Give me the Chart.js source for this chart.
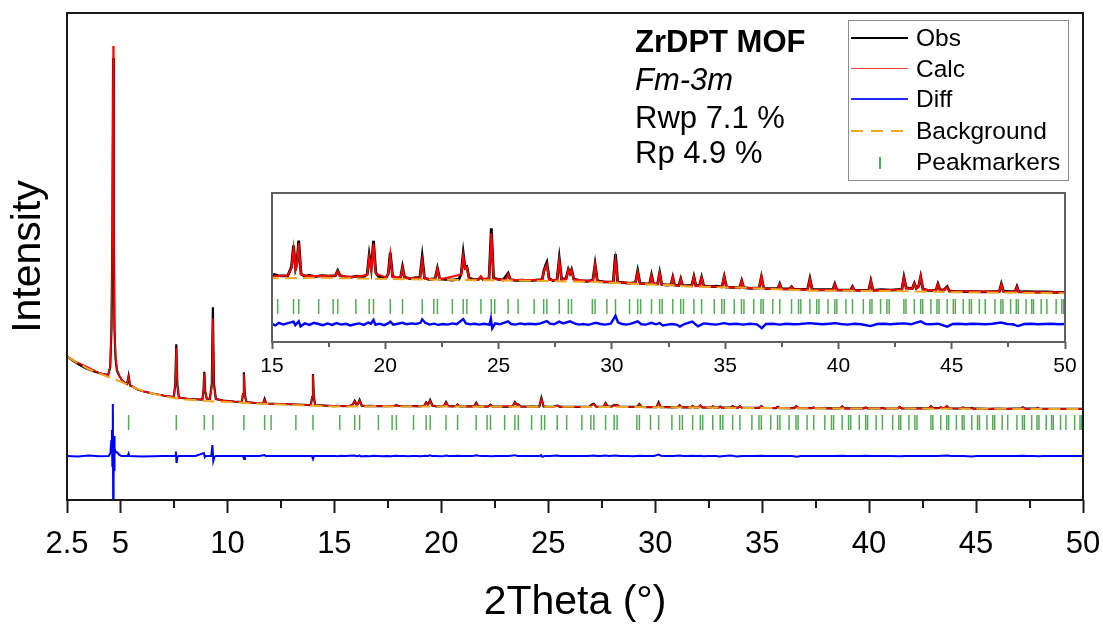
<!DOCTYPE html>
<html>
<head>
<meta charset="utf-8">
<script src="https://cdn.jsdelivr.net/npm/chart.js@4/dist/chart.umd.min.js"></script>
<style>
body{margin:0;background:#fff;}
#wrap{position:relative;width:1103px;height:625px;font-family:"Liberation Sans",Arial,sans-serif;color:#000;}
#chart{position:absolute;left:0;top:0;}
#inset{position:absolute;left:222px;top:183px;}
.note{position:absolute;left:635px;font-size:31px;line-height:30px;white-space:nowrap;}
#legenda{position:absolute;left:848px;top:20px;width:219px;height:159px;border:1px solid #8c8c8c;}
.item{position:absolute;left:67px;font-size:24.5px;line-height:31px;white-space:nowrap;}
.amostra{position:absolute;left:2px;width:57px;}
</style>
</head>
<body>
<div id="wrap">
<canvas id="chart" width="1103" height="625"></canvas>
<canvas id="inset" width="868" height="200"></canvas>

<div class="note" style="top:27px;font-weight:bold">ZrDPT MOF</div>
<div class="note" style="top:65px;font-style:italic">Fm-3m</div>
<div class="note" style="top:103px">Rwp 7.1 %</div>
<div class="note" style="top:138px">Rp 4.9 %</div>

<div id="legenda">
  <div class="amostra" style="top:16px;border-top:2px solid #000"></div>
  <div class="item" style="top:1px">Obs</div>
  <div class="amostra" style="top:47px;border-top:1.5px solid #ff4040"></div>
  <div class="item" style="top:32px">Calc</div>
  <div class="amostra" style="top:77px;border-top:2px solid #1f2bff"></div>
  <div class="item" style="top:62px">Diff</div>
  <div class="amostra" style="top:109px;height:2px;background:repeating-linear-gradient(90deg,#eda829 0 12px,transparent 12px 20px)"></div>
  <div class="item" style="top:94px">Background</div>
  <div style="position:absolute;left:30px;top:136px;width:2px;height:12px;background:#4caf50"></div>
  <div class="item" style="top:125px">Peakmarkers</div>
</div>
</div>

<script>
// values: [2Theta (deg), intensity (counts)]
const obsPts = [
  [2.5,6250],[2.8,5800],[3.1,5400],[3.4,5050],[3.7,4800],[4.0,4600],[4.2,4480],[4.42,4380],
  [4.52,5200],[4.58,9000],[4.62,18000],[4.655,36100],[4.69,18000],[4.72,9000],[4.77,6000],[4.84,4800],
  [4.95,4300],[5.1,3800],[5.25,3550],[5.31,3500],[5.38,4300],[5.45,3350],[5.55,3250],[5.8,2950],
  [6.1,2750],[6.5,2550],[7.0,2350],[7.49,2180],[7.56,3400],[7.61,7470],[7.66,3400],[7.73,2150],
  [8.2,2000],[8.83,1950],[8.88,2800],[8.92,4730],[8.96,2800],[9.03,2050],[9.18,2000],[9.27,3500],
  [9.32,11170],[9.37,3500],[9.46,2000],[9.8,1850],[10.3,1750],[10.67,1700],[10.73,2500],[10.77,4670],
  [10.81,2500],[10.88,1700],[11.3,1600],[11.67,1560],[11.74,2000],[11.81,1550],[12.5,1500],[13.2,1450],
  [13.9,1400],[13.96,2200],[14.0,4500],[14.04,2200],[14.1,1400],[14.5,1350],
  [15.0,1290],[15.1,1320],[15.25,1300],[15.45,1295],[15.7,1300],[15.86,1450],[15.95,1810],[16.04,1420],
  [16.1,1500],[16.18,1895],[16.28,1330],[16.45,1290],[16.65,1305],[16.9,1285],[17.2,1300],[17.5,1290],
  [17.8,1300],[17.9,1385],[18.0,1300],[18.25,1280],[18.5,1275],[18.75,1290],[19.0,1270],[19.2,1320],
  [19.29,1650],[19.38,1420],[19.48,1890],[19.58,1350],[19.75,1265],[20.05,1275],[20.13,1330],[20.22,1690],
  [20.32,1290],[20.55,1255],[20.68,1280],[20.76,1450],[20.85,1270],[21.1,1250],[21.3,1260],[21.53,1270],
  [21.63,1620],[21.73,1260],[21.95,1235],[22.2,1250],[22.3,1425],[22.4,1245],[22.65,1235],[22.95,1225],
  [23.25,1240],[23.35,1330],[23.44,1680],[23.52,1430],[23.6,1450],[23.7,1260],[23.95,1230],[24.12,1240],
  [24.22,1275],[24.32,1235],[24.58,1250],[24.68,2105],[24.78,1260],[24.95,1240],[25.2,1225],[25.42,1340],
  [25.52,1230],[25.75,1220],[26.05,1225],[26.35,1215],[26.65,1225],[26.92,1230],[27.0,1380],[27.07,1470],
  [27.13,1525],[27.23,1250],[27.4,1215],[27.58,1230],[27.68,1590],[27.78,1240],[27.98,1250],[28.08,1405],
  [28.15,1340],[28.22,1405],[28.32,1240],[28.6,1215],[28.9,1205],[29.16,1220],[29.26,1495],[29.36,1210],
  [29.65,1195],[30.06,1190],[30.16,1665],[30.26,1190],[30.5,1180],[30.8,1170],[31.04,1180],[31.14,1380],
  [31.24,1170],[31.5,1160],[31.67,1165],[31.75,1310],[31.83,1165],[32.02,1160],[32.11,1350],[32.2,1150],
  [32.45,1140],[32.61,1145],[32.69,1272],[32.77,1140],[32.96,1135],[33.04,1243],[33.12,1130],[33.53,1135],
  [33.62,1282],[33.71,1130],[33.87,1135],[33.96,1272],[34.05,1125],[34.3,1112],[34.6,1120],[34.86,1110],
  [34.96,1282],[35.06,1105],[35.35,1100],[35.64,1095],[35.73,1214],[35.82,1095],[36.15,1085],[36.5,1090],
  [36.6,1277],[36.7,1085],[37.0,1080],[37.33,1080],[37.41,1158],[37.49,1075],[37.85,1075],[37.93,1112],
  [38.01,1070],[38.35,1065],[38.64,1070],[38.74,1248],[38.84,1065],[39.2,1060],[39.5,1062],[39.75,1060],
  [39.84,1158],[39.93,1058],[40.25,1055],[40.54,1056],[40.62,1112],[40.7,1052],[41.0,1050],[41.34,1055],
  [41.43,1209],[41.52,1050],[41.9,1060],[42.3,1055],[42.6,1060],[42.8,1065],[42.89,1272],[42.99,1090],
  [43.26,1080],[43.35,1170],[43.44,1085],[43.54,1120],[43.63,1282],[43.73,1070],[43.95,1050],[44.3,1045],
  [44.39,1158],[44.48,1060],[44.65,1055],[44.8,1112],[44.89,1040],[45.2,1030],[45.6,1027],[46.0,1030],
  [46.4,1025],[46.8,1028],[47.1,1030],[47.19,1158],[47.28,1035],[47.55,1030],[47.8,1030],[47.88,1112],
  [47.96,1025],[48.3,1027],[48.7,1022],[49.1,1025],[49.5,1018],[50.0,1017]
];

const calcPts = [
  [2.5,6230],[3.0,5650],[3.5,5150],[4.0,4620],[4.42,4350],[4.52,5300],[4.58,9500],[4.62,19000],
  [4.655,37300],[4.69,19000],[4.72,9500],[4.77,6200],[4.84,4900],[4.95,4300],[5.1,3800],[5.25,3550],
  [5.31,3500],[5.38,4250],[5.45,3350],[5.55,3250],[5.8,2950],[6.1,2750],[6.5,2550],[7.0,2350],
  [7.49,2180],[7.56,3300],[7.61,7070],[7.66,3300],[7.73,2150],[8.2,2000],[8.83,1950],[8.88,2750],
  [8.92,4570],[8.96,2750],[9.03,2050],[9.18,2000],[9.27,3300],[9.32,10070],[9.37,3300],[9.46,2000],
  [9.8,1850],[10.3,1750],[10.67,1700],[10.73,2450],[10.77,4500],[10.81,2450],[10.88,1700],[11.3,1600],
  [11.67,1560],[11.74,1950],[11.81,1550],[12.5,1500],[13.2,1450],[13.9,1400],[13.96,2200],[14.0,4450],
  [14.04,2200],[14.1,1400],[14.5,1350],
  [15.0,1290],[15.7,1300],[15.86,1430],[15.95,1760],[16.04,1400],[16.1,1480],[16.18,1850],[16.28,1320],
  [16.5,1295],[17.5,1295],[17.8,1300],[17.9,1375],[18.0,1295],[18.5,1275],[19.2,1310],[19.29,1620],
  [19.38,1400],[19.48,1840],[19.58,1330],[20.05,1270],[20.13,1320],[20.22,1660],[20.32,1280],[20.68,1265],
  [20.76,1430],[20.85,1260],[21.53,1255],[21.63,1560],[21.73,1250],[22.2,1240],[22.3,1415],[22.4,1235],
  [23.35,1320],[23.44,1640],[23.52,1420],[23.6,1440],[23.7,1240],[24.12,1235],[24.22,1290],[24.32,1235],
  [24.58,1250],[24.68,2020],[24.78,1245],[25.32,1225],[25.42,1320],[25.52,1225],[26.92,1225],[27.0,1370],
  [27.07,1440],[27.13,1490],[27.23,1225],[27.58,1225],[27.68,1560],[27.78,1230],[27.98,1240],[28.08,1395],
  [28.15,1330],[28.22,1395],[28.32,1230],[29.16,1205],[29.26,1480],[29.36,1200],[30.06,1190],[30.16,1570],
  [30.26,1185],[31.04,1175],[31.14,1360],[31.24,1165],[31.67,1160],[31.75,1300],[31.83,1160],[32.02,1155],
  [32.11,1340],[32.2,1150],[32.61,1140],[32.69,1265],[32.77,1138],[32.96,1132],[33.04,1240],[33.12,1128],
  [33.53,1125],[33.62,1275],[33.71,1125],[33.87,1122],[33.96,1268],[34.05,1120],[34.86,1108],[34.96,1285],
  [35.06,1105],[35.64,1095],[35.73,1215],[35.82,1093],[36.5,1085],[36.6,1290],[36.7,1082],[37.33,1075],
  [37.41,1150],[37.49,1073],[37.85,1070],[37.93,1108],[38.01,1068],[38.64,1062],[38.74,1240],[38.84,1060],
  [39.75,1055],[39.84,1150],[39.93,1053],[40.54,1050],[40.62,1105],[40.7,1050],[41.34,1048],[41.43,1215],
  [41.52,1046],[42.8,1060],[42.89,1265],[42.99,1085],[43.26,1078],[43.35,1165],[43.44,1080],[43.54,1115],
  [43.63,1290],[43.73,1065],[44.3,1040],[44.39,1155],[44.48,1055],[44.65,1050],[44.8,1105],[44.89,1035],
  [47.1,1025],[47.19,1150],[47.28,1028],[47.8,1022],[47.88,1105],[47.96,1020],[50.0,1012]
];

const bgPts = [
  [2.5,6230],[3.0,5600],[3.5,5000],[4.0,4550],[4.5,4150],[5.0,3750],[5.5,3250],[6.0,2850],
  [6.5,2550],[7.0,2300],[7.5,2100],[8.0,1950],[9.0,1800],[10.0,1700],[11.0,1580],[12.0,1480],
  [13.0,1400],[14.0,1330],[15.0,1255],[17.0,1265],[19.0,1250],[21.0,1238],[23.3,1226],[26.3,1214],
  [29.2,1192],[32.6,1136],[33.5,1112],[35.8,1095],[38.7,1044],[42.4,1039],[45.2,1017],[50.0,1000]
];

// difference curve (obs - calc), counts
const diffPts = [
  [2.5,0],[3.0,-60],[3.5,50],[4.0,-20],[4.45,0],[4.53,300],[4.57,1500],[4.6,2600],
  [4.62,-1000],[4.635,2600],[4.65,5200],[4.66,-6000],[4.67,1500],[4.685,-2200],[4.7,2000],[4.715,-1500],
  [4.73,800],[4.77,400],[4.85,350],[4.95,100],[5.05,0],[5.34,0],[5.38,250],[5.42,0],
  [6.0,-50],[7.0,0],[7.56,0],[7.59,450],[7.62,-700],[7.66,-100],[7.72,0],[8.5,0],
  [8.9,300],[8.94,-100],[8.98,0],[9.24,0],[9.3,1100],[9.34,-500],[9.39,-100],[9.45,0],
  [10.0,0],[10.73,0],[10.78,-300],[10.82,0],[11.5,0],[11.74,100],[11.79,0],[13.95,0],
  [14.0,-300],[14.05,0],[14.5,0],
  [15.0,0],[15.15,-25],[15.3,20],[15.5,-10],[15.7,15],[15.95,40],[16.03,-20],[16.1,10],
  [16.18,45],[16.26,-40],[16.45,10],[16.65,-15],[16.85,20],[17.05,0],[17.25,-20],[17.45,10],
  [17.65,-15],[17.85,15],[18.05,-10],[18.25,5],[18.45,-25],[18.65,-5],[18.85,10],[19.05,-15],
  [19.25,25],[19.37,5],[19.48,70],[19.56,-10],[19.75,5],[19.95,-20],[20.12,10],[20.22,40],
  [20.35,-10],[20.55,5],[20.75,20],[20.95,-5],[21.15,10],[21.35,0],[21.55,20],[21.63,80],
  [21.75,25],[21.95,-10],[22.15,5],[22.33,-15],[22.55,0],[22.75,-10],[22.95,10],[23.15,-5],
  [23.44,85],[23.56,10],[23.75,-5],[23.95,5],[24.15,-10],[24.35,5],[24.6,-10],[24.66,90],
  [24.72,-75],[24.85,10],[25.05,-5],[25.42,45],[25.55,0],[25.75,-10],[25.95,10],[26.15,-5],
  [26.35,5],[26.65,-5],[26.85,10],[27.13,50],[27.27,5],[27.45,-5],[27.68,40],[27.85,10],
  [28.15,45],[28.35,10],[28.55,-10],[28.75,0],[28.95,-15],[29.15,5],[29.3,20],[29.5,0],
  [29.7,-10],[29.95,5],[30.16,140],[30.27,30],[30.45,0],[30.65,-10],[30.85,5],[31.14,45],
  [31.3,-5],[31.5,-10],[31.75,20],[31.95,-5],[32.11,15],[32.25,-25],[32.45,-10],[32.65,0],
  [32.85,-10],[33.0,-45],[33.2,0],[33.55,40],[33.8,-40],[34.05,10],[34.3,0],[34.6,-10],
  [34.95,15],[35.2,-5],[35.5,5],[35.8,-10],[36.1,5],[36.4,-5],[36.62,-70],[36.8,0],
  [37.1,5],[37.4,-10],[37.7,5],[38.0,-5],[38.3,0],[38.74,15],[39.0,5],[39.3,-5],
  [39.6,5],[39.85,15],[40.1,0],[40.4,-10],[40.7,5],[41.0,-5],[41.42,-35],[41.7,0],
  [42.0,5],[42.3,-5],[42.6,5],[42.9,10],[43.2,-5],[43.63,45],[43.85,0],[44.1,-5],
  [44.4,5],[44.8,-45],[45.05,0],[45.3,5],[45.6,-5],[45.9,5],[46.2,0],[46.5,-5],
  [46.8,5],[47.18,25],[47.45,0],[47.7,-5],[47.92,-35],[48.2,0],[48.5,5],[48.8,-5],
  [49.1,0],[49.4,5],[49.7,-5],[50.0,0]
];

// reflection positions (2Theta, deg)
const peakPos = [
  4.66,5.38,7.61,8.92,9.32,10.77,11.74,12.04,13.20,14.00,15.25,15.95,16.18,17.06,17.70,17.90,
  18.70,19.29,19.48,20.22,20.76,21.63,22.14,22.30,22.96,23.44,23.60,24.22,24.68,24.83,25.42,25.86,
  26.57,26.99,27.13,27.68,28.08,28.22,29.14,29.26,29.78,30.16,30.78,31.14,31.27,31.75,32.11,32.22,
  32.69,33.04,33.16,33.62,33.96,34.52,34.85,34.96,35.40,35.72,35.83,36.26,36.58,36.68,37.10,37.41,
  37.93,38.24,38.34,38.74,39.04,39.14,39.54,39.84,39.93,40.33,40.62,41.10,41.39,41.48,41.86,42.14,
  42.24,42.89,42.98,43.35,43.63,43.72,44.08,44.35,44.44,44.80,45.07,45.16,45.51,45.78,45.87,46.22,
  46.48,46.91,47.17,47.26,47.60,47.85,47.94,48.28,48.53,48.61,48.95,49.20,49.61,49.86,49.94
];

const ticksMain = [2.5,5,10,15,20,25,30,35,40,45,50];
const minorMain = [7.5,12.5,17.5,22.5,27.5,32.5,37.5,42.5,47.5];
const ticksInset = [15,20,25,30,35,40,45,50];
const minorInset = [17.5,22.5,27.5,32.5,37.5,42.5,47.5];

const fonte = '"Liberation Sans", Arial, sans-serif';

function pontos(lista){ return lista.map(p => ({x:p[0], y:p[1]})) }

// the same five series go in both charts, the inset uses a bit thicker lines
function series(grosso){
  return [
    {label:'Background', data:pontos(bgPts), borderColor:'#eda829', borderWidth:2, borderDash:[12,6], pointRadius:0, order:1},
    {label:'Calc', data:pontos(calcPts), borderColor:'#ff0000', borderWidth:grosso ? 2 : 1.5, pointRadius:0, order:2},
    {label:'Obs', data:pontos(obsPts), borderColor:'#000000', borderWidth:grosso ? 2.8 : 2.2, pointRadius:0, order:3},
    {label:'Diff', data:pontos(diffPts), borderColor:'#0000ff', borderWidth:grosso ? 2.4 : 2, pointRadius:0, yAxisID:'yd', order:4},
    {label:'Peakmarkers', data:peakPos.map(v => ({x:v, y:0})), showLine:false, pointStyle:'line', pointRotation:90,
     pointRadius:7.5, pointBorderColor:'rgba(30,140,30,0.75)', pointBorderWidth:1.5, yAxisID:'ym', order:5}
  ];
}

// frame round the plot area + the short minor ticks
const moldura = {
  id:'moldura',
  afterDraw(chart, args, op){
    const c = chart.ctx, a = chart.chartArea, x = chart.scales.x;
    c.save();
    c.strokeStyle = op.cor;
    c.lineWidth = 2;
    c.strokeRect(a.left, a.top, a.right - a.left, a.bottom - a.top);
    op.menores.forEach(v => {
      const px = Math.round(x.getPixelForValue(v));
      c.beginPath();
      c.moveTo(px, a.bottom);
      c.lineTo(px, a.bottom + op.tam);
      c.stroke();
    });
    c.restore();
  }
};

// x axis keeps a fixed height and does not push the plot edges in
function fixaX(h){
  return s => { s.height = h; s.paddingLeft = 0; s.paddingRight = 0 };
}

const grafico = new Chart(document.getElementById('chart').getContext('2d'), {
  type:'line',
  data:{datasets:series(false)},
  options:{
    responsive:false, animation:false, devicePixelRatio:1,
    layout:{padding:{left:0, right:20, top:13, bottom:0}},
    plugins:{legend:{display:false}, tooltip:{enabled:false}, moldura:{cor:'#1a1a1a', menores:minorMain, tam:8}},
    scales:{
      x:{type:'linear', min:2.5, max:50,
        afterBuildTicks: s => { s.ticks = ticksMain.map(v => ({value:v})) },
        afterFit: fixaX(125),
        ticks:{font:{family:fonte, size:31}, color:'#000', padding:13, maxRotation:0, autoSkip:false, callback: v => String(v)},
        grid:{drawOnChartArea:false, tickLength:13, tickWidth:2, tickColor:'#1a1a1a'},
        border:{display:false},
        title:{display:true, text:'2Theta (°)', font:{family:fonte, size:41}, color:'#000', padding:{top:0, bottom:-2}}
      },
      y:{min:-8100, max:40600,
        afterFit: s => { s.width = 67 },
        ticks:{display:false}, grid:{display:false}, border:{display:false},
        title:{display:true, text:'Intensity', font:{family:fonte, size:41}, color:'#000', padding:{top:4, bottom:0}}
      },
      yd:{display:false, min:-4400, max:44300},
      ym:{display:false, min:-77.5, max:409.5}
    }
  },
  plugins:[moldura]
});

// zoomed inset 15-50 deg
const detalhe = new Chart(document.getElementById('inset').getContext('2d'), {
  type:'line',
  data:{datasets:series(true)},
  options:{
    responsive:false, animation:false, devicePixelRatio:1,
    layout:{padding:{left:50, right:25, top:10, bottom:0}},
    plugins:{legend:{display:false}, tooltip:{enabled:false}, moldura:{cor:'#5f5f5f', menores:minorInset, tam:5}},
    scales:{
      x:{type:'linear', min:15, max:50,
        afterBuildTicks: s => { s.ticks = ticksInset.map(v => ({value:v})) },
        afterFit: fixaX(41),
        ticks:{font:{family:fonte, size:21}, color:'#000', padding:5, maxRotation:0, autoSkip:false, callback: v => String(v)},
        grid:{drawOnChartArea:false, tickLength:7, tickWidth:2, tickColor:'#5f5f5f'},
        border:{display:false}
      },
      y:{display:false, min:172, max:2705},
      yd:{display:false, min:-306, max:2227},
      ym:{display:false, min:-35.5, max:113.5}
    }
  },
  plugins:[moldura]
});
</script>
</body>
</html>
